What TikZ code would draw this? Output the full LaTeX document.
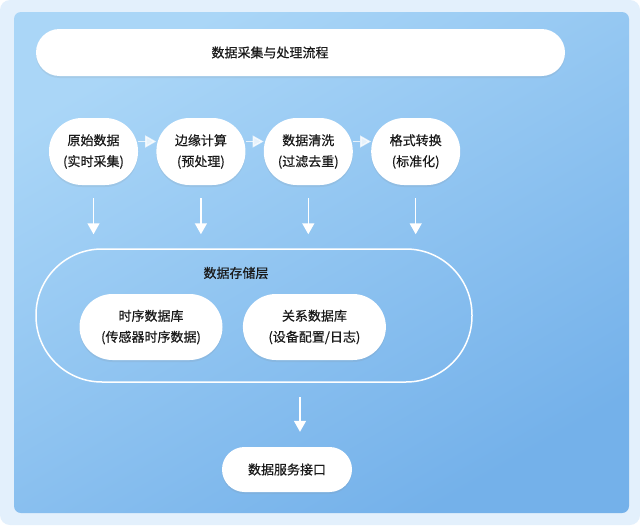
\documentclass[tikz,border=0pt]{standalone}
\usepackage{fontspec}
\setmainfont{Noto Sans CJK SC}[FakeBold=0.5]
\usetikzlibrary{arrows.meta,shadows,positioning}

\definecolor{bgLight}{HTML}{E3F0FC}
\definecolor{panelTop}{HTML}{AAD6F7}
\definecolor{panelBot}{HTML}{74B1EA}
\definecolor{inkDark}{HTML}{1A1A1A}

\tikzset{
  box/.style={fill=white, text=inkDark, align=center, inner sep=0pt,
    drop shadow={opacity=0.12, shadow xshift=0pt, shadow yshift=-2pt}},
  stepnode/.style={box, minimum width=89pt, minimum height=67pt, rounded corners=33pt},
  dbnode/.style={box, minimum width=143pt, minimum height=66pt, rounded corners=33pt},
  flow/.style={-{Triangle[width=12pt,length=11pt]}, white, line width=1.5pt},
}

\begin{document}
\begin{tikzpicture}[x=1pt,y=-1pt,font=\fontsize{13}{21}\selectfont]
\useasboundingbox (0,0) rectangle (640,525);

% Background and panel
\fill[white] (0,0) rectangle (640,525);
\fill[bgLight,rounded corners=10pt] (0,0) rectangle (640,525);
\shade[top color=panelTop,bottom color=panelBot,shading angle=30,rounded corners=7pt]
  (14,12) rectangle (629,513);

% Title bar
\node[box,minimum width=529pt,minimum height=47pt,rounded corners=23.5pt] (titleBar) at (300.5,52.5) {};
\node[text=inkDark] (titleText) at (270,52.5) {数据采集与处理流程};

% Processing steps
\node[stepnode] (rawData) at (93.5,151.5) {原始数据\\(实时采集)};
\node[stepnode,right=18pt of rawData] (edgeCalc) {边缘计算\\(预处理)};
\node[stepnode,right=18pt of edgeCalc] (cleanData) {数据清洗\\(过滤去重)};
\node[stepnode,right=18pt of cleanData] (formatConv) {格式转换\\(标准化)};

\draw[flow,opacity=0.75] ([yshift=10pt]rawData.east) -- ([yshift=10pt]edgeCalc.west);
\draw[flow,opacity=0.75] ([yshift=10pt]edgeCalc.east) -- ([yshift=10pt]cleanData.west);
\draw[flow,opacity=0.75] ([yshift=10pt]cleanData.east) -- ([yshift=10pt]formatConv.west);

% Storage layer
\node[draw=white,line width=1.5pt,minimum width=436pt,minimum height=133pt,
  rounded corners=66pt,inner sep=0pt] (storeLayer) at (254,315.5) {};
\node[text=inkDark] (storeTitle) at (236,273) {数据存储层};
\node[dbnode] (tsdb) at (151,327) {时序数据库\\(传感器时序数据)};
\node[dbnode,right=20pt of tsdb] (rdb) {关系数据库\\(设备配置/日志)};

\foreach \n in {rawData,edgeCalc,cleanData,formatConv}
  \draw[flow,shorten <=13pt,shorten >=14pt] (\n.south) -- (\n.south |- storeLayer.north);

% Service interface
\node[box,minimum width=130pt,minimum height=45pt,rounded corners=22.5pt] (apiNode) at (287,469.5) {数据服务接口};
\coordinate (apiIn) at (300,447);
\draw[flow,shorten <=14pt,shorten >=15pt] (apiIn |- storeLayer.south) -- (apiIn |- apiNode.north);
\end{tikzpicture}
\end{document}
